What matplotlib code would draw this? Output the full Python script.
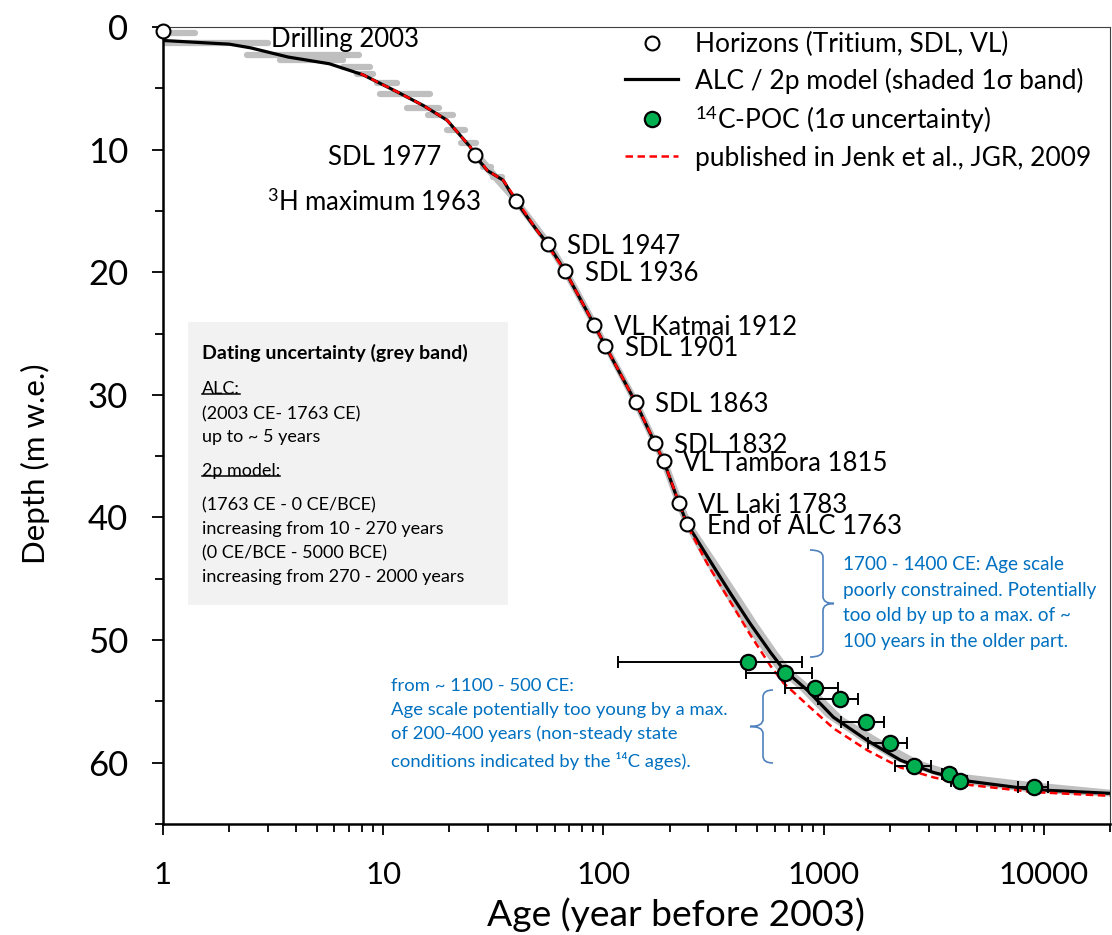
import matplotlib
matplotlib.use('Agg')
import matplotlib.pyplot as plt
from matplotlib.lines import Line2D
from matplotlib.patches import Rectangle, PathPatch
from matplotlib.path import Path
from matplotlib.ticker import FixedLocator, MultipleLocator, NullFormatter

plt.rcParams['font.family'] = ['Lato', 'DejaVu Sans']
plt.rcParams['mathtext.fontset'] = 'custom'
plt.rcParams['mathtext.rm'] = 'Lato'
plt.rcParams['mathtext.it'] = 'Lato:italic'
plt.rcParams['mathtext.bf'] = 'Lato:bold'

# dated horizons
horizon_names = ['Drilling 2003', 'SDL 1977', '$^{3}$H maximum 1963', 'SDL 1947', 'SDL 1936',
                 'VL Katmai 1912', 'SDL 1901', 'SDL 1863', 'SDL 1832', 'VL Tambora 1815',
                 'VL Laki 1783', 'End of ALC 1763']
horizon_age = [1, 26, 40, 56, 67, 91, 102, 140, 171, 188, 220, 240]
horizon_depth = [0.3, 10.45, 14.2, 17.7, 19.9, 24.3, 26.0, 30.6, 33.9, 35.4, 38.8, 40.5]

# ALC / 2p model depth-age curve
model_age = [1, 2, 2.5, 3.7, 5.7, 8.1, 11.6, 15.2, 19.5, 24.9, 26, 29.7, 35.1, 40, 50, 56, 67,
             91, 102, 140, 171, 188, 220, 240, 297, 378, 466, 574, 658, 846, 1110, 1585, 2238,
             3162, 4519, 9010, 20000]
model_depth = [1.1, 1.4, 1.7, 2.45, 3.0, 3.9, 5.3, 6.4, 7.6, 9.8, 10.45, 11.7, 12.5, 14.2, 16.6,
               17.7, 19.9, 24.3, 26.0, 30.6, 33.9, 35.4, 38.8, 40.5, 43.2, 46.2, 48.7, 51.0, 52.4,
               54.1, 56.3, 58.2, 59.8, 60.8, 61.5, 62.2, 62.5]

# Jenk et al. 2009 published curve
pub_age = [7.9, 11.6, 15.2, 19.5, 24.9, 29.7, 35.1, 50, 67, 91, 140, 188, 240, 297, 378, 466,
           574, 658, 846, 1110, 1585, 2238, 3162, 4519, 9010, 20000]
pub_depth = [3.8, 5.3, 6.4, 7.6, 9.8, 11.7, 12.5, 16.6, 19.9, 24.3, 30.6, 35.4, 40.6, 43.8, 46.9,
             49.6, 52.1, 53.5, 55.3, 57.2, 59.0, 60.4, 61.2, 61.8, 62.4, 62.7]

# 1 sigma band, annual layer counting part (yearly steps)
alc_depth = [0.5, 1.3, 2.3, 2.7, 3.3, 3.8, 4.6, 5.5, 6.6, 7.2, 8.4, 9.5, 11.4, 12.2]
alc_age_min = [1.0, 1.02, 2.4, 3.4, 6.6, 7.6, 9.4, 9.7, 12.8, 15.9, 19.5, 22.5, 28.5, 31.5]
alc_age_max = [1.4, 3.0, 7.8, 6.6, 8.7, 9.0, 11.6, 16.3, 18.0, 20.8, 23.5, 26.5, 31.0, 34.5]

# 1 sigma band outline: older (upper) edge and younger (lower) edge
band_old_age = [28, 42, 59, 70, 95, 106, 146, 178, 196, 230, 252, 318, 410, 505, 620, 712, 920,
                1230, 1850, 2700, 4200, 9010, 20000]
band_old_depth = [10.45, 14.2, 17.7, 19.9, 24.3, 26.0, 30.6, 33.9, 35.4, 38.8, 40.5, 43.2, 46.2,
                  48.7, 51.0, 52.4, 54.1, 56.3, 58.2, 59.8, 60.9, 61.6, 62.2]
band_young_age = [25, 38.5, 54, 64.5, 88, 99, 135, 165, 181, 212, 231, 280, 352, 433, 535, 612,
                  785, 1030, 1480, 2100, 2950, 4200, 9010, 20000]
band_young_depth = [10.45, 14.2, 17.7, 19.9, 24.3, 26.0, 30.6, 33.9, 35.4, 38.8, 40.5, 43.2,
                    46.2, 48.7, 51.0, 52.4, 54.1, 56.3, 58.2, 59.8, 60.8, 61.7, 62.45, 62.75]

# 14C-POC ages
poc_age = [456, 665, 910, 1183, 1553, 1995, 2565, 3700, 4150, 9010]
poc_depth = [51.8, 52.7, 53.9, 54.8, 56.7, 58.4, 60.3, 60.9, 61.5, 62.0]
poc_age_min = [116, 446, 665, 939, 1195, 1585, 2103, 3450, 3780, 7620]
poc_age_max = [795, 882, 1158, 1428, 1875, 2384, 3064, 3950, 4500, 10430]

x_ticks = [1, 10, 100, 1000, 10000]
x_ticklabels = ['1', '10', '100', '1000', '10000']

band_grey = '#BFBFBF'
blue = '#0070C0'
red_dash = (0, (3, 1.8))

fig = plt.figure(figsize=(11.12, 9.35), dpi=100)
ax = fig.add_axes([163 / 1112, 1 - 824 / 935, 947 / 1112, 797 / 935])

ax.fill(band_old_age + band_young_age[::-1], band_old_depth + band_young_depth[::-1],
        color=band_grey, lw=0, zorder=1)
ax.hlines(alc_depth, alc_age_min, alc_age_max, color=band_grey, lw=4.5, capstyle='round', zorder=1)
ax.plot(model_age, model_depth, color='black', lw=2.3, zorder=3)
ax.plot(pub_age, pub_depth, color='red', lw=1.8, ls=red_dash, zorder=4)

xerr = [[a - lo for a, lo in zip(poc_age, poc_age_min)],
        [hi - a for a, hi in zip(poc_age, poc_age_max)]]
ax.errorbar(poc_age, poc_depth, xerr=xerr, fmt='none', ecolor='black', elinewidth=1.4,
            capsize=4.5, capthick=1.4, zorder=5)
ax.plot(poc_age, poc_depth, 'o', ms=11, mfc='#00B050', mec='black', mew=1.6, zorder=6)
ax.plot(horizon_age, horizon_depth, 'o', ms=10, mfc='white', mec='black', mew=1.5, zorder=6,
        clip_on=False)

# horizon labels: (dx, dy) offsets in points, alignment
label_offsets = [(78, -6, 'left'), (-24, -2, 'right'), (-25, -1, 'right')] + \
                [(14, -2, 'left')] * 9
for name, a, d, (dx, dy, ha) in zip(horizon_names, horizon_age, horizon_depth, label_offsets):
    ax.annotate(name, (a, d), xytext=(dx, dy), textcoords='offset points',
                ha=ha, va='center', fontsize=18.5, zorder=7)

ax.set_xscale('log')
ax.set_xlim(1, 20000)
ax.set_ylim(65, 0)
ax.xaxis.set_major_locator(FixedLocator(x_ticks))
ax.set_xticklabels(x_ticklabels)
ax.xaxis.set_minor_locator(FixedLocator([m * 10 ** e for e in range(0, 5) for m in range(2, 10)]))
ax.xaxis.set_minor_formatter(NullFormatter())
ax.yaxis.set_major_locator(MultipleLocator(10))
ax.yaxis.set_minor_locator(MultipleLocator(5))
ax.tick_params(which='both', direction='out', width=1.3)
ax.tick_params(which='major', length=8)
ax.tick_params(which='minor', length=6)
ax.tick_params(axis='x', pad=19, labelsize=22.5)
ax.tick_params(axis='y', pad=17, labelsize=25)
for s in ['left', 'bottom']:
    ax.spines[s].set_linewidth(1.8)
for s in ['top', 'right']:
    ax.spines[s].set_linewidth(0.8)
    ax.spines[s].set_color('#404040')

ax.set_xlabel('Age (year before 2003)', fontsize=26.8, va='center')
ax.xaxis.set_label_coords((676 - 163) / 947, (824 - 915) / 797)
ax.set_ylabel('Depth (m w.e.)', fontsize=22.5, va='center')
ax.yaxis.set_label_coords((35 - 163) / 947, (824 - 464) / 797)

handles = [Line2D([], [], ls='none', marker='o', ms=10, mfc='white', mec='black', mew=1.5),
           Line2D([], [], color='black', lw=2.3),
           Line2D([], [], ls='none', marker='o', ms=11, mfc='#00B050', mec='black', mew=1.6),
           Line2D([], [], color='red', lw=1.8, ls=red_dash)]
labels = ['Horizons (Tritium, SDL, VL)', 'ALC / 2p model (shaded 1\u03c3 band)',
          '$^{14}$C-POC (1\u03c3 uncertainty)', 'published in Jenk et al., JGR, 2009']
ax.legend(handles, labels, loc='upper left', bbox_to_anchor=(0.4826, 1.0), frameon=False,
          fontsize=19, handlelength=2.0, handletextpad=0.65, labelspacing=0.38,
          borderpad=0.2, borderaxespad=0)

# grey info box
ax.add_patch(Rectangle((0.0264, 0.275), 0.338, 0.355, transform=ax.transAxes,
                       fc='#F2F2F2', ec='none', zorder=0.5))
box_lines = [('Dating uncertainty (grey band)', 353, 'bold', False),
             ('ALC:', 389, 'normal', True),
             ('(2003 CE- 1763 CE)', 414, 'normal', False),
             ('up to ~ 5 years', 437, 'normal', False),
             ('2p model:', 471, 'normal', True),
             ('(1763 CE - 0 CE/BCE)', 505, 'normal', False),
             ('increasing from 10 - 270 years', 529, 'normal', False),
             ('(0 CE/BCE - 5000 BCE)', 553, 'normal', False),
             ('increasing from 270 - 2000 years', 577, 'normal', False)]
box_texts = []
for txt, ypx, weight, underline in box_lines:
    t = ax.text((202 - 163) / 947, (824 - ypx) / 797, txt, transform=ax.transAxes,
                fontsize=14 if weight == 'bold' else 13, fontweight=weight,
                va='center', ha='left', zorder=2)
    box_texts.append((t, underline))

ax.text((843 - 163) / 947, (824 - 556) / 797,
        '1700 - 1400 CE: Age scale\npoorly constrained. Potentially\n'
        'too old by up to a max. of ~\n100 years in the older part.',
        transform=ax.transAxes, color=blue, fontsize=13.6, va='top', ha='left', linespacing=1.62)
ax.text((391 - 163) / 947, (824 - 678) / 797,
        'from ~ 1100 - 500 CE:\nAge scale potentially too young by a max.\n'
        'of 200-400 years (non-steady state\nconditions indicated by the \u00b9\u2074C ages).',
        transform=ax.transAxes, color=blue, fontsize=13.3, va='top', ha='left', linespacing=1.6)


def brace(x, y0, y1, hook, tip, r):
    ym = (y0 + y1) / 2
    verts = [(x + hook, y1), (x, y1), (x, y1 - r), (x, ym + r), (x, ym), (x + tip, ym),
             (x, ym), (x, ym - r), (x, y0 + r), (x, y0), (x + hook, y0)]
    codes = [Path.MOVETO, Path.CURVE3, Path.CURVE3, Path.LINETO, Path.CURVE3, Path.CURVE3,
             Path.CURVE3, Path.CURVE3, Path.LINETO, Path.CURVE3, Path.CURVE3]
    ax.add_patch(PathPatch(Path(verts, codes), transform=ax.transAxes, fc='none',
                           ec='#4F81BD', lw=1.2, zorder=2))


brace((823 - 163) / 947, (824 - 657) / 797, (824 - 550) / 797, -13 / 947, 11 / 947, 7 / 797)
brace((763 - 163) / 947, (824 - 763) / 797, (824 - 690) / 797, 10 / 947, -13 / 947, 7 / 797)

# underline the two headings in the box
fig.canvas.draw()
renderer = fig.canvas.get_renderer()
for t, underline in box_texts:
    if not underline:
        continue
    bb = t.get_window_extent(renderer).transformed(fig.transFigure.inverted())
    yline = bb.y0 + 3 / 935
    fig.add_artist(Line2D([bb.x0, bb.x1], [yline, yline], transform=fig.transFigure,
                          color='black', lw=1.1))

fig.savefig('out.png', dpi=100)
